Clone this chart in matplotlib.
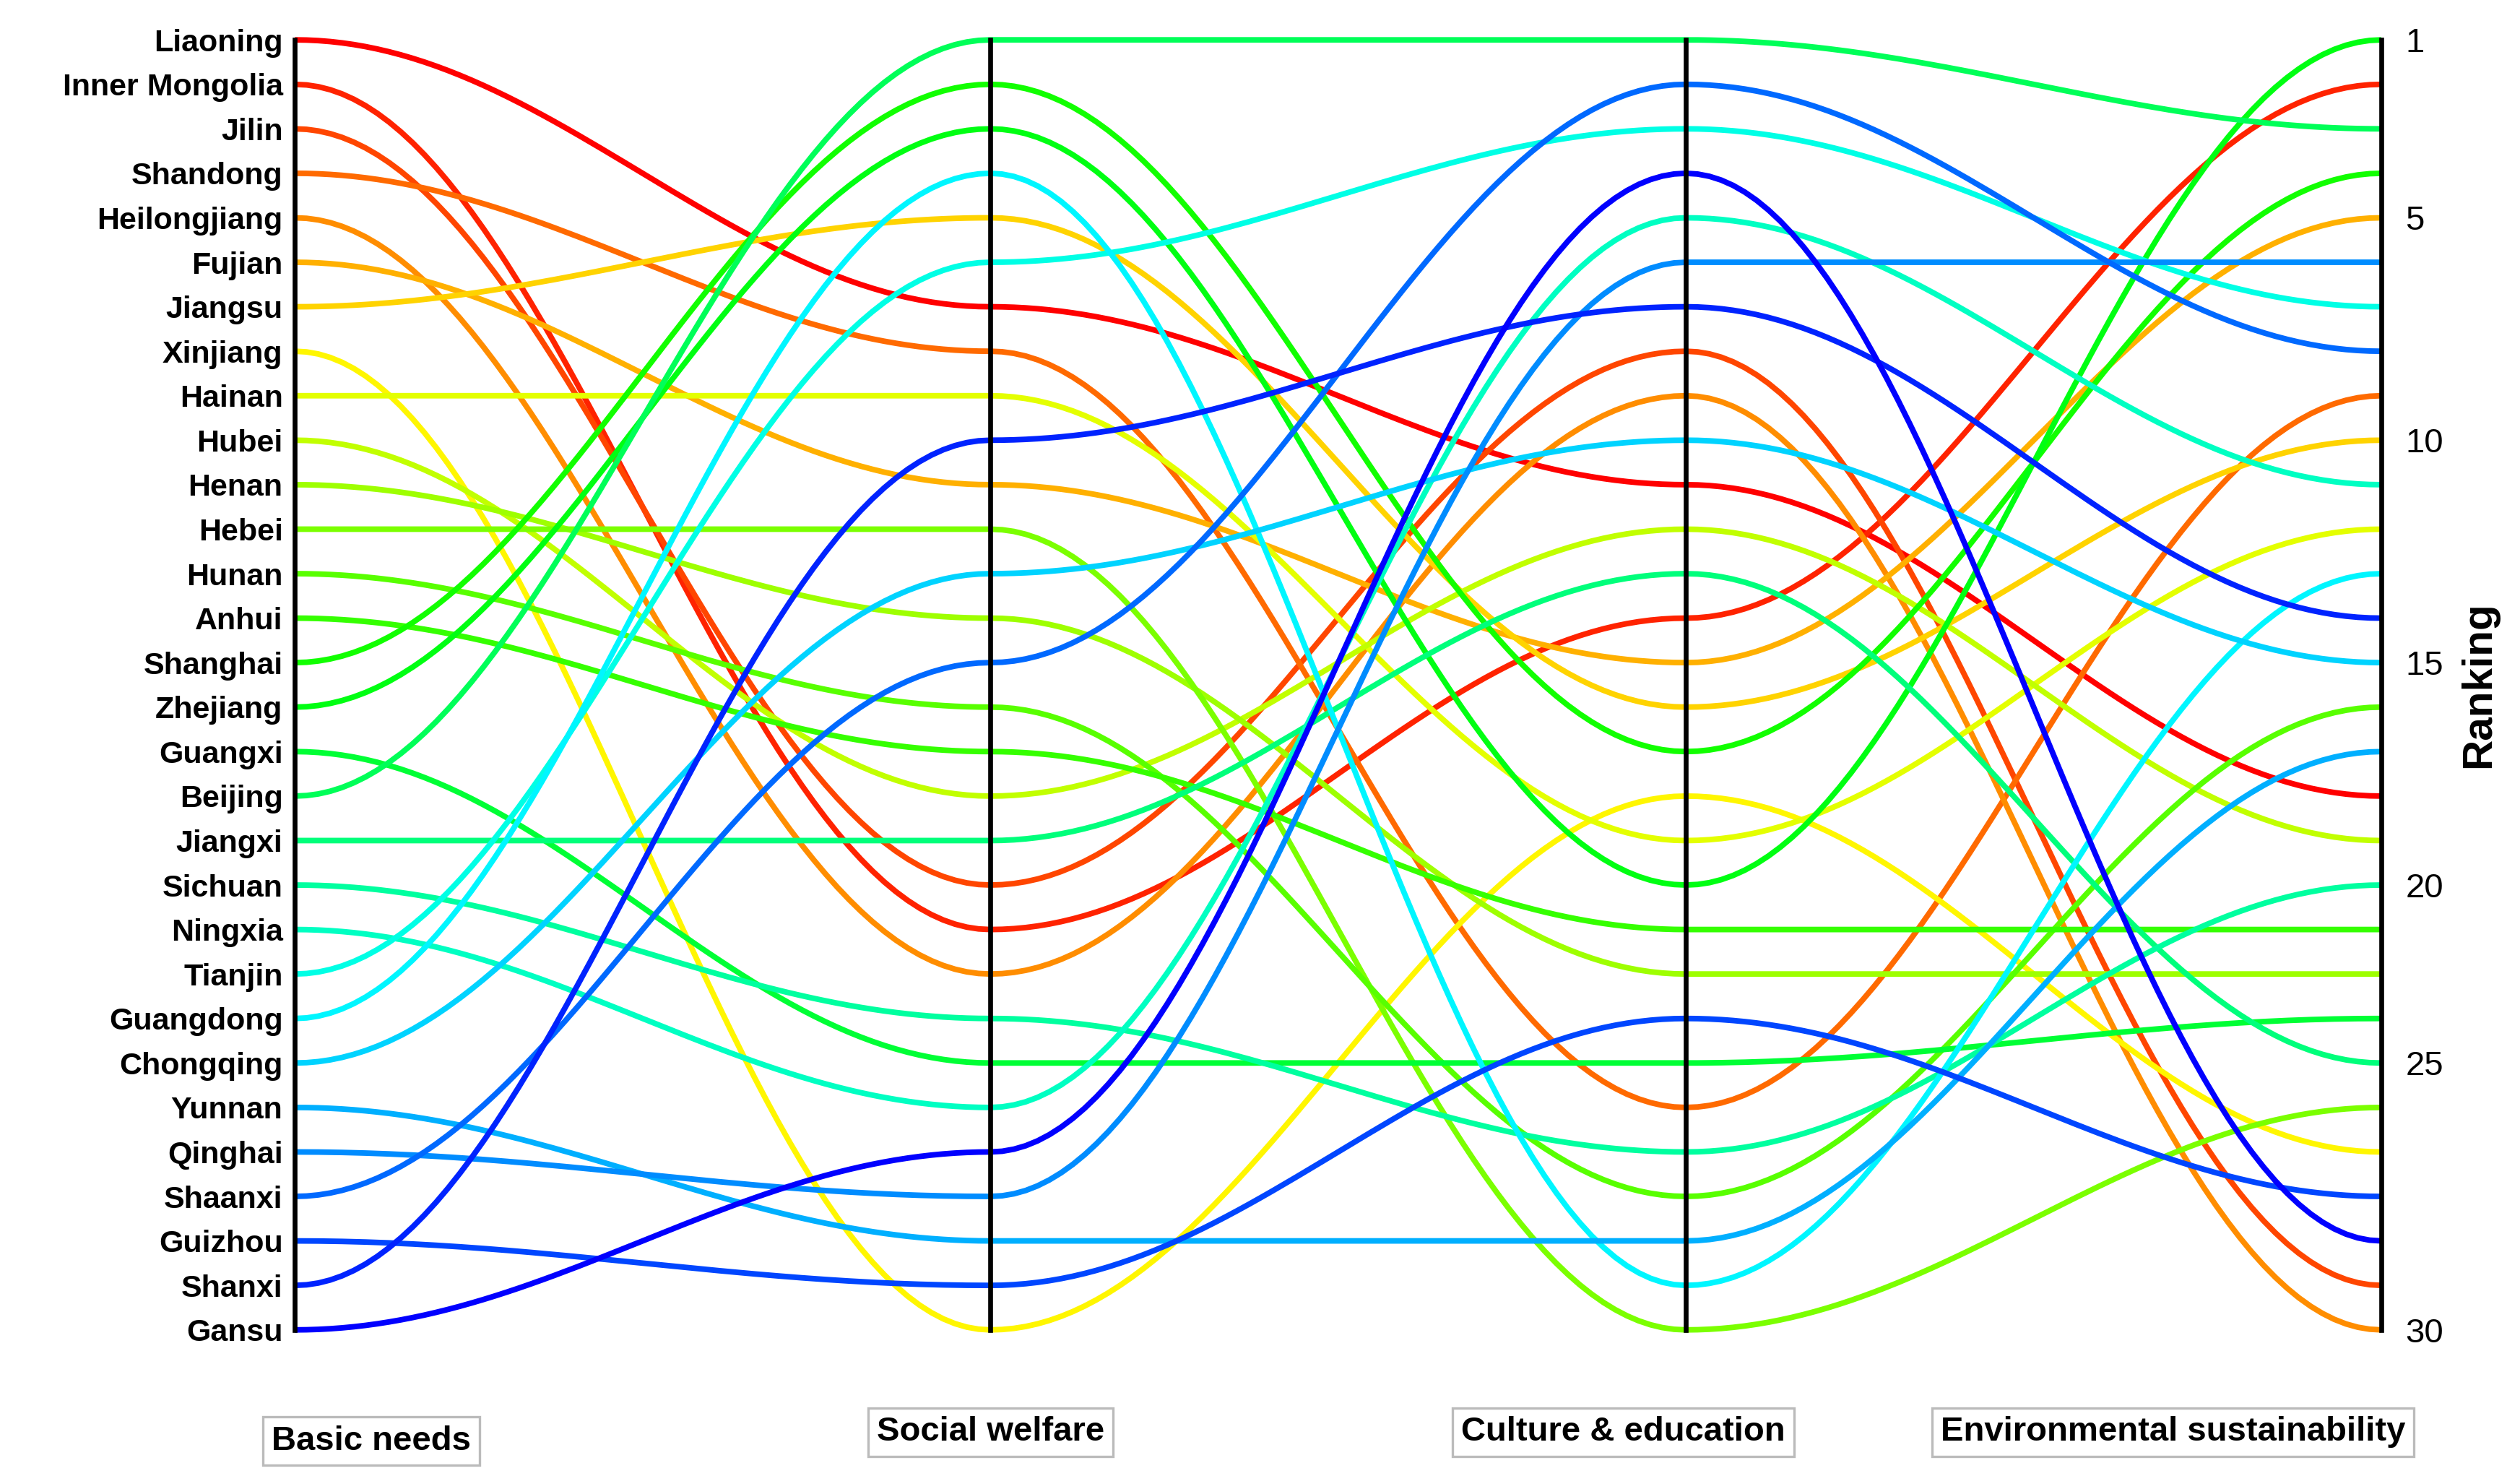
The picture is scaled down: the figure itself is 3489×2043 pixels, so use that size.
import numpy as np
import matplotlib
matplotlib.use("Agg")
import matplotlib.pyplot as plt
import colorsys

plt.rcParams['font.family'] = ['Liberation Sans', 'DejaVu Sans']

provinces = ["Liaoning", "Inner Mongolia", "Jilin", "Shandong", "Heilongjiang", "Fujian",
             "Jiangsu", "Xinjiang", "Hainan", "Hubei", "Henan", "Hebei", "Hunan", "Anhui",
             "Shanghai", "Zhejiang", "Guangxi", "Beijing", "Jiangxi", "Sichuan", "Ningxia",
             "Tianjin", "Guangdong", "Chongqing", "Yunnan", "Qinghai", "Shaanxi", "Guizhou",
             "Shanxi", "Gansu"]
dimensions = ["Basic needs", "Social welfare", "Culture & education", "Environmental sustainability"]

basic_needs = list(range(1, 31))
social_welfare = [7, 21, 20, 8, 22, 11, 5, 30, 9, 18, 14, 12, 16, 17, 2, 3, 24, 1, 19, 23,
                  25, 6, 4, 13, 28, 27, 15, 29, 10, 26]
culture_education = [11, 14, 8, 25, 9, 15, 16, 18, 19, 12, 22, 30, 27, 21, 17, 20, 24, 1, 13, 26,
                     5, 3, 29, 10, 28, 6, 2, 23, 7, 4]
environment = [18, 2, 29, 9, 30, 5, 10, 26, 12, 19, 22, 25, 16, 21, 4, 1, 23, 3, 24, 20,
               11, 7, 13, 15, 17, 6, 8, 27, 14, 28]

rank_ticks = [1, 5, 10, 15, 20, 24, 30]
rank_tick_labels = ["1", "5", "10", "15", "20", "25", "30"]

fig = plt.figure(figsize=(17.445, 10.215), dpi=200)
ax = fig.add_axes([0.117, 0.099, 0.828, 0.874])

ranks = np.array([basic_needs, social_welfare, culture_education, environment])
t = np.linspace(0, 1, 60)
ease = (1 - np.cos(np.pi * t)) / 2

for i in range(len(provinces)):
    hue = (basic_needs[i] - 1) / 29 * 0.667
    color = colorsys.hsv_to_rgb(hue, 1, 1)
    xs, ys = [], []
    for k in range(3):
        xs.append(k + t)
        ys.append(ranks[k, i] + (ranks[k + 1, i] - ranks[k, i]) * ease)
    ax.plot(np.concatenate(xs), np.concatenate(ys), color=color, lw=2.8,
            solid_capstyle="butt", clip_on=False, zorder=2)

for k in range(4):
    ax.plot([k, k], [1, 30], color="black", lw=2.4, zorder=3, clip_on=False)

ax.set_xlim(0, 3)
ax.set_ylim(30, 1)
for s in ax.spines.values():
    s.set_visible(False)
ax.set_xticks([])
ax.set_yticks(basic_needs)
ax.set_yticklabels(provinces, fontweight="bold", fontsize=15.5)
ax.tick_params(axis="y", length=0, pad=6)

ax2 = ax.twinx()
ax2.set_ylim(30, 1)
for s in ax2.spines.values():
    s.set_visible(False)
ax2.set_yticks(rank_ticks)
ax2.set_yticklabels(rank_tick_labels, fontsize=17)
ax2.tick_params(axis="y", length=0, pad=12)
ax2.set_ylabel("Ranking", fontsize=21, fontweight="bold", labelpad=8)

label_x = [0.11, 1.0, 1.91, 2.7]
label_y = [32.5, 32.3, 32.3, 32.3]
for name, lx, ly in zip(dimensions, label_x, label_y):
    ax.text(lx, ly, name, ha="center", va="center", fontsize=17, fontweight="bold",
            bbox=dict(boxstyle="square,pad=0.25", fc="white", ec="#bbbbbb", lw=1.2))

fig.savefig("out.png", dpi=200)
